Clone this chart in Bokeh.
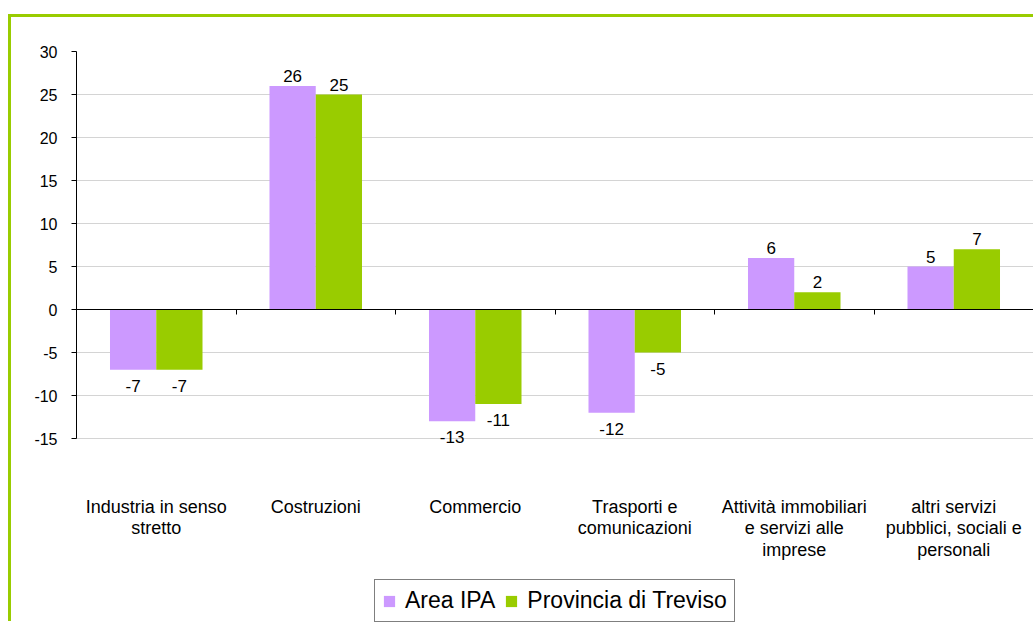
from bokeh.plotting import figure
from bokeh.models import (ColumnDataSource, FixedTicker, LinearAxis, Range1d,
                          Legend, LegendItem)
from bokeh.embed import file_html
from bokeh.resources import INLINE
from bokeh.core.properties import value, field

# ---- data ----
categories = [
    "Industria in senso\nstretto",
    "Costruzioni",
    "Commercio",
    "Trasporti e\ncomunicazioni",
    "Attività immobiliari\ne servizi alle\nimprese",
    "altri servizi\npubblici, sociali e\npersonali",
]
series_names = ["Area IPA", "Provincia di Treviso"]
area_ipa = [-7, 26, -13, -12, 6, 5]
treviso = [-7, 25, -11, -5, 2, 7]
y_ticks = [-15, -10, -5, 0, 5, 10, 15, 20, 25, 30]

PURPLE = "#CC99FF"
GREEN = "#99CC00"
FONT = "Liberation Sans"

# ---- layout constants ----
W, H = 1025, 607
TOP, LEFT, RIGHT = 34, 65, 3
AXIS_PX = 387.0                      # pixel height of the -15..30 axis
frame_h = H - TOP
units_per_px = (y_ticks[-1] - y_ticks[0]) / AXIS_PX
y_bottom = y_ticks[-1] - frame_h * units_per_px

n = len(categories)
centers = [i + 0.5 for i in range(n)]
bar_w = 0.29
off = 0.145

p = figure(width=W, height=H, output_backend="svg", toolbar_location=None,
           x_range=Range1d(0, n), y_range=Range1d(y_bottom, y_ticks[-1]),
           min_border_left=LEFT, min_border_right=RIGHT, min_border_top=TOP,
           min_border_bottom=0, x_axis_type=None)
p.styles = {"border-top": f"3px solid {GREEN}", "border-left": f"3px solid {GREEN}",
            "margin-top": "14px", "margin-left": "8px"}
p.outline_line_color = None
p.background_fill_color = "white"
p.border_fill_color = "white"

src_a = ColumnDataSource(dict(x=[c - off for c in centers], top=area_ipa))
src_t = ColumnDataSource(dict(x=[c + off for c in centers], top=treviso))

r_a = p.vbar(x="x", top="top", bottom=0, width=bar_w, source=src_a,
             fill_color=PURPLE, line_color=None)
r_t = p.vbar(x="x", top="top", bottom=0, width=bar_w, source=src_t,
             fill_color=GREEN, line_color=None)

# value labels
lx, ly, lt, lb, lo = [], [], [], [], []
for xs, vals in ((src_a.data["x"], area_ipa), (src_t.data["x"], treviso)):
    for x, v in zip(xs, vals):
        lx.append(x)
        ly.append(v)
        lt.append(str(v))
        lb.append("bottom" if v >= 0 else "top")
        lo.append(-4 if v >= 0 else 10)
lab_src = ColumnDataSource(dict(x=lx, y=ly, t=lt, b=lb, o=lo))
p.text(x="x", y="y", text="t", source=lab_src, text_align="center",
       text_baseline=field("b"), y_offset=field("o"),
       text_font=value(FONT), text_font_size="17px", text_color="black")

# category labels under the value axis minimum
cat_src = ColumnDataSource(dict(x=centers, y=[y_ticks[0]] * n, t=categories))
p.text(x="x", y="y", text="t", source=cat_src, text_align="center",
       text_baseline="top", y_offset=58, text_line_height=1.08,
       text_font=value(FONT), text_font_size="18px", text_color="black")

# y axis
p.yaxis.ticker = FixedTicker(ticks=y_ticks)
p.yaxis.major_label_overrides = {t: str(t) for t in y_ticks}
p.yaxis.bounds = (y_ticks[0], y_ticks[-1])
p.yaxis.major_tick_out = 5
p.yaxis.major_tick_in = 0
p.yaxis.minor_tick_line_color = None
p.yaxis.axis_line_color = "black"
p.yaxis.major_tick_line_color = "black"
p.yaxis.major_label_standoff = 14
p.yaxis.major_label_text_font = FONT
p.yaxis.major_label_text_font_size = "16px"
p.yaxis.major_label_text_color = "black"
p.ygrid.ticker = FixedTicker(ticks=y_ticks)
p.ygrid.grid_line_color = "#D4D4D4"
p.xgrid.grid_line_color = None

# zero line axis with category separators
zero_axis = LinearAxis(ticker=FixedTicker(ticks=list(range(n + 1))), fixed_location=0,
                       major_label_overrides={i: "" for i in range(n + 1)})
zero_axis.axis_line_color = "black"
zero_axis.major_tick_line_color = "black"
zero_axis.major_tick_in = 5
zero_axis.major_tick_out = 0
zero_axis.minor_tick_line_color = None
zero_axis.major_label_standoff = 0
p.add_layout(zero_axis, "above")

legend = Legend(items=[LegendItem(label=series_names[0], renderers=[r_a]),
                       LegendItem(label=series_names[1], renderers=[r_t])],
                orientation="horizontal", location=(298, 2))
legend.label_text_font = FONT
legend.label_text_font_size = "23px"
legend.label_text_color = "black"
legend.glyph_width = 14
legend.glyph_height = 14
legend.label_standoff = 9
legend.spacing = 9
legend.padding = 7
legend.margin = 0
legend.border_line_color = "black"
legend.border_line_width = 1
legend.background_fill_alpha = 1
p.add_layout(legend, "center")

open("out.html", "w").write(file_html(p, INLINE))
